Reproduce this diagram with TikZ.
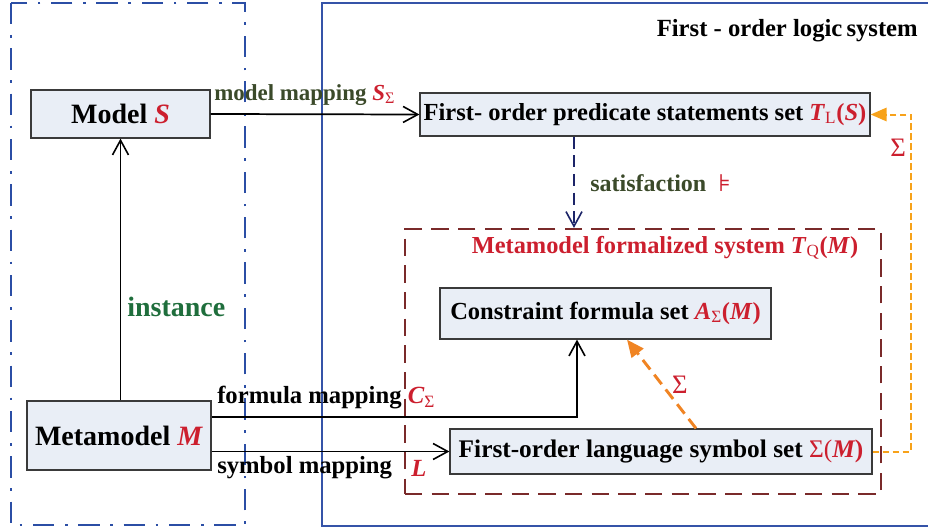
\documentclass[tikz,border=0pt]{standalone}
\usepackage{fontspec}
\setmainfont{Liberation Serif}
\newfontfamily\dejavu{DejaVu Sans}
\usetikzlibrary{arrows.meta}
\definecolor{boxfill}{HTML}{E9EEF6}
\definecolor{boxline}{HTML}{3A3A3A}
\definecolor{myred}{HTML}{CC1F2E}
\definecolor{olive}{HTML}{3B4A2A}
\definecolor{mygreen}{HTML}{1F6E3C}
\definecolor{navy}{HTML}{1C2468}
\definecolor{maroon}{HTML}{7A2A2A}
\definecolor{leftblue}{HTML}{2B4EA5}
\definecolor{rightblue}{HTML}{3553A8}
\definecolor{orangeA}{HTML}{F08423}
\definecolor{orangeB}{HTML}{F7A21A}
\newcommand{\rd}[1]{\textcolor{myred}{\textit{#1}}}
\newcommand{\rdsub}[1]{\textcolor{myred}{\textsubscript{\mdseries\upshape #1}}}
\newcommand{\fsz}[1]{\fontsize{#1}{#1}\selectfont}
\begin{document}
\begin{tikzpicture}[x=0.75pt,y=-0.75pt,
  box/.style={draw=boxline, fill=boxfill, line width=0.9pt, inner sep=0pt, font=\bfseries},
  arr/.style={line width=1.3pt, -{Straight Barb[length=11pt,width=12pt,line width=1.2pt]}},
  lbl/.style={font=\bfseries, inner sep=0pt}]
\useasboundingbox (0,0) rectangle (928,528);
% frames
\draw[leftblue, line width=2pt, dash pattern=on 16pt off 8pt on 2pt off 8pt] (11,3) rectangle (245,525);
\draw[rightblue, line width=1.2pt] (322,3) rectangle (940,526);
\node[lbl, anchor=east] (title) at (918,31) {\fsz{18.5}First - order logic\,system};
% boxes
\node[box, minimum width=134.25pt, minimum height=36pt] (model) at (120.5,114) {\fsz{21}Model \rd{S}};
\node[box, minimum width=337.5pt, minimum height=32.25pt] (pred) at (645,114.5) {\fsz{18.4}First- order predicate statements set \rd{T}\rdsub{L}\textcolor{myred}{(\textit{S})}};
\node[draw=maroon, line width=1.6pt, dash pattern=on 13pt off 7pt, inner sep=0pt, minimum width=357pt, minimum height=198.75pt] (tq) at (643,361.5) {};
\node[lbl, text=myred] (tqlabel) at (665,248) {\fsz{18.3}Metamodel formalized system \textit{T}\rdsub{Q}(\textit{M})};
\node[box, minimum width=248.25pt, minimum height=38.25pt] (cons) at (605.5,313.5) {\fsz{18.4}Constraint formula set \rd{A}\rdsub{\char"03A3}\textcolor{myred}{(\textit{M})}};
\node[box, minimum width=316.5pt, minimum height=33.75pt] (sym) at (661,451.5) {\fsz{19}First-order language symbol set \textcolor{myred}{\mdseries\char"03A3(\bfseries\itshape M\upshape)}};
\node[box, minimum width=138pt, minimum height=51.75pt] (meta) at (119,435.5) {\fsz{21}Metamodel \rd{M}};
% helper coordinates
\coordinate (sx) at (574,0);
\coordinate (fx) at (577,417);
\coordinate (ox) at (911,0);
\coordinate (oa) at (696,0);
\coordinate (ob) at (627,0);
% connectors
\draw[arr] (meta.north -| model.south) -- (model.south);
\draw[arr] (model.east) -- (pred.west);
\draw[arr, navy, line width=1.2pt, dash pattern=on 9pt off 5pt] (pred.south -| sx) -- (tq.north -| sx);
\draw[arr] (meta.east |- fx) -- (fx) -- (cons.south -| fx);
\draw[arr] (meta.east |- sym.west) -- (sym.west);
\draw[orangeA, line width=2.2pt, dash pattern=on 9pt off 5pt, -{Triangle[length=13pt,width=11pt]}] (sym.north -| oa) -- (cons.south -| ob);
\draw[orangeB, line width=1.5pt, dash pattern=on 5pt off 2.5pt, -{Triangle[length=12pt,width=10pt]}] (sym.east) -- (sym.east -| ox) -- (pred.east -| ox) -- (pred.east);
% labels
\node[lbl, text=olive, anchor=west] (l1) at (214,95) {\fsz{17.2}model mapping \rd{S}\rdsub{\char"03A3}};
\node[lbl, text=olive, anchor=west] (l2) at (590,183) {\fsz{18}satisfaction \ \textcolor{myred}{\mdseries\dejavu\char"22A7}};
\node[lbl, text=mygreen, anchor=west] (l3) at (127,307) {\fsz{21}instance};
\node[lbl, anchor=west] (l4) at (217,398) {\fsz{18.5}formula mapping \rd{C}\rdsub{\char"03A3}};
\node[lbl, anchor=west] (l5) at (217,468) {\fsz{18.5}symbol mapping};
\node[lbl, anchor=west] (l6) at (411,468) {\fsz{18.5}\rd{L}};
\node[text=myred, inner sep=0pt] (s1) at (680,385) {\fsz{20}\char"03A3};
\node[text=myred, inner sep=0pt] (s2) at (898,148) {\fsz{20}\char"03A3};
\end{tikzpicture}
\end{document}
